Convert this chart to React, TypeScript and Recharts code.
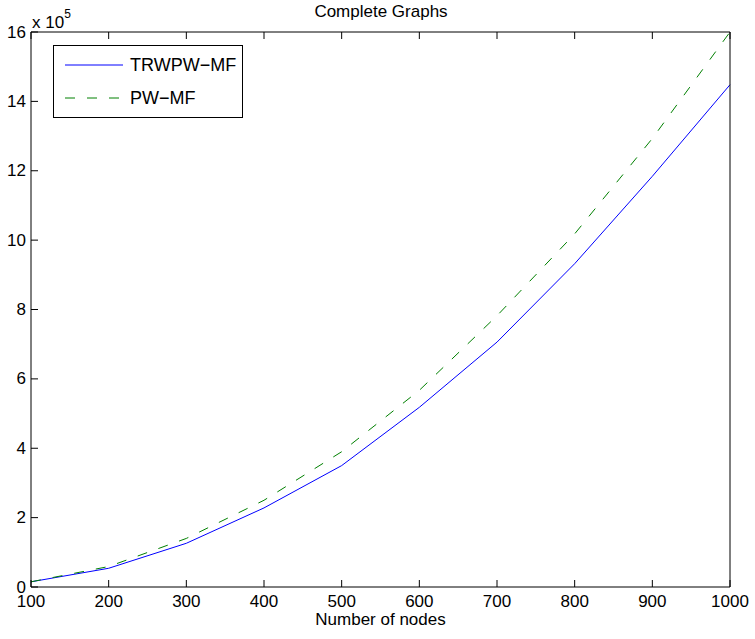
import { Line, LineChart, XAxis, YAxis } from "recharts";

// values in units of 10^5
const nodes = [100, 200, 300, 400, 500, 600, 700, 800, 900, 1000];
const trwpwMf = [0.15, 0.54, 1.26, 2.28, 3.5, 5.18, 7.06, 9.32, 11.84, 14.48];
const pwMf = [0.15, 0.59, 1.4, 2.5, 3.9, 5.67, 7.82, 10.18, 12.93, 16.0];
const xTicks = [100, 200, 300, 400, 500, 600, 700, 800, 900, 1000];
const yTicks = [0, 2, 4, 6, 8, 10, 12, 14, 16];

const seriesNames = ["TRWPW−MF", "PW−MF"];
const BLUE = "#0000ff";
const GREEN = "#008000";
const DASH = "10 12";
const FONT = "'Liberation Sans', Arial, Helvetica, sans-serif";
const FS = 17;

const data = nodes.map((n, i) => ({ n, a: trwpwMf[i], b: pwMf[i] }));

const BottomTick = ({ x, y, payload }: any) => (
  <g>
    <line x1={x} y1={y} x2={x} y2={y - 7} stroke="#000" />
    <text x={x} y={y + 20} textAnchor="middle" fontSize={FS} fontFamily={FONT} fill="#000">
      {payload.value}
    </text>
  </g>
);

const TopTick = ({ x, y }: any) => <line x1={x} y1={y} x2={x} y2={y + 7} stroke="#000" />;

const LeftTick = ({ x, y, payload }: any) => (
  <g>
    <line x1={x} y1={y} x2={x + 7} y2={y} stroke="#000" />
    <text x={x - 5} y={y + 5.5} textAnchor="end" fontSize={FS} fontFamily={FONT} fill="#000">
      {payload.value}
    </text>
  </g>
);

const RightTick = ({ x, y }: any) => <line x1={x} y1={y} x2={x - 7} y2={y} stroke="#000" />;

export default function App() {
  return (
    <div style={{ position: "absolute", left: 0, top: 0, width: 755, height: 639, background: "#fff", fontFamily: FONT }}>
      <LineChart width={755} height={639} data={data} margin={{ top: 0, right: 0, bottom: 0, left: 0 }}>
        <XAxis
          dataKey="n"
          type="number"
          domain={[100, 1000]}
          ticks={xTicks}
          height={52}
          tickSize={0}
          tickMargin={0}
          tickLine={false}
          axisLine={{ stroke: "#000" }}
          tick={<BottomTick />}
          interval={0}
        />
        <XAxis
          xAxisId="top"
          orientation="top"
          dataKey="n"
          type="number"
          domain={[100, 1000]}
          ticks={xTicks}
          height={32}
          tickSize={0}
          tickMargin={0}
          tickLine={false}
          axisLine={{ stroke: "#000" }}
          tick={<TopTick />}
          interval={0}
        />
        <YAxis
          type="number"
          domain={[0, 16]}
          ticks={yTicks}
          width={31}
          tickSize={0}
          tickMargin={0}
          tickLine={false}
          axisLine={{ stroke: "#000" }}
          tick={<LeftTick />}
          interval={0}
        />
        <YAxis
          yAxisId="right"
          orientation="right"
          type="number"
          domain={[0, 16]}
          ticks={yTicks}
          width={25}
          tickSize={0}
          tickMargin={0}
          tickLine={false}
          axisLine={{ stroke: "#000" }}
          tick={<RightTick />}
          interval={0}
        />
        <Line dataKey="a" name={seriesNames[0]} stroke={BLUE} strokeWidth={1} dot={false} type="linear" isAnimationActive={false} />
        <Line
          dataKey="b"
          name={seriesNames[1]}
          stroke={GREEN}
          strokeWidth={1}
          strokeDasharray={DASH}
          dot={false}
          type="linear"
          isAnimationActive={false}
        />
      </LineChart>

      <div style={{ position: "absolute", left: 0, top: 2, width: 762, textAlign: "center", fontSize: FS, lineHeight: "20px" }}>
        Complete Graphs
      </div>
      <div style={{ position: "absolute", left: 32, top: 7, fontSize: FS, lineHeight: "20px" }}>
        x 10<sup style={{ fontSize: 12, position: "relative", top: -3 }}>5</sup>
      </div>
      <div style={{ position: "absolute", left: 0, top: 610, width: 761, textAlign: "center", fontSize: FS, lineHeight: "20px" }}>
        Number of nodes
      </div>

      <div
        style={{
          position: "absolute",
          left: 53,
          top: 45,
          width: 188,
          height: 71,
          border: "1px solid #000",
          background: "#fff",
          fontSize: 18,
        }}
      >
        {seriesNames.map((name, i) => (
          <div
            key={name}
            style={{
              position: "absolute",
              left: 0,
              top: i === 0 ? 8 : 41,
              height: 22,
              display: "flex",
              alignItems: "center",
              whiteSpace: "nowrap",
            }}
          >
            <svg width={76} height={22}>
              <line
                x1={11}
                y1={11}
                x2={69}
                y2={11}
                stroke={i === 0 ? BLUE : GREEN}
                strokeDasharray={i === 0 ? undefined : DASH}
              />
            </svg>
            <span>{name}</span>
          </div>
        ))}
      </div>
    </div>
  );
}
